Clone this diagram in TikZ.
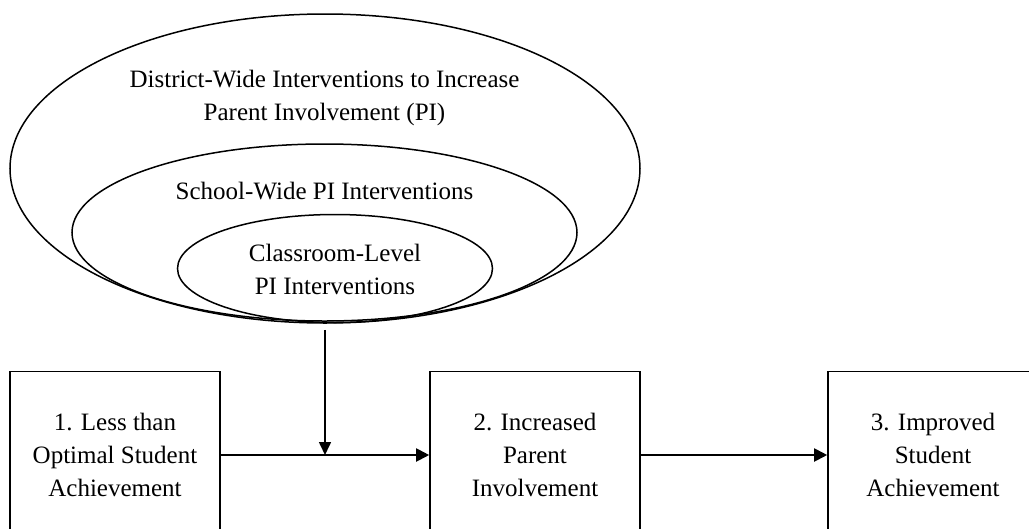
\documentclass[tikz,border=0pt]{standalone}
\usepackage{fontspec}
\setmainfont{Liberation Serif}
\usetikzlibrary{shapes.geometric,arrows.meta}
\begin{document}
\begin{tikzpicture}[x=1pt,y=-1pt,
  ell/.style={draw,ellipse,line width=1.5pt,inner sep=0pt},
  lbl/.style={align=center,font=\fontsize{25}{33}\selectfont,inner sep=0pt},
  stagebox/.style={draw,line width=1.6pt,minimum width=210pt,minimum height=167pt,inner sep=0pt,align=center,font=\fontsize{25}{33}\selectfont},
  conn/.style={line width=2pt,-{Triangle[length=13pt,width=13pt]}}]
\useasboundingbox (0,0) rectangle (1029,528);
\node[ell,minimum width=630pt,minimum height=309pt] (outer) at (325,168.5) {};
\node[ell,minimum width=505pt,minimum height=177pt] (middle) at (324.5,232.5) {};
\node[ell,minimum width=315pt,minimum height=108pt] (inner) at (335,268.5) {};
\node[lbl] (tdist) at (324.5,98) {District-Wide Interventions to Increase\\Parent Involvement (PI)};
\node[lbl] (tschool) at (324.5,191) {School-Wide PI Interventions};
\node[lbl] (tclass) at (335,269) {Classroom-Level\\PI Interventions};
\node[stagebox] (b1) at (115,455) {1. Less than\\Optimal Student\\Achievement};
\node[stagebox] (b2) at (535,455) {\raisebox{3pt}{\parbox{200pt}{\centering 2. Increased\\Parent\\Involvement}}};
\node[stagebox] (b3) at (933,455) {3. Improved\\Student\\Achievement};
\coordinate (m) at (325,455);
\draw[conn] (b1) -- (b2);
\draw[conn] (b2) -- (b3);
\draw[line width=1.6pt,-{Triangle[length=13pt,width=12pt]},shorten <=6pt] (outer.south) -- (m);
\end{tikzpicture}
\end{document}
